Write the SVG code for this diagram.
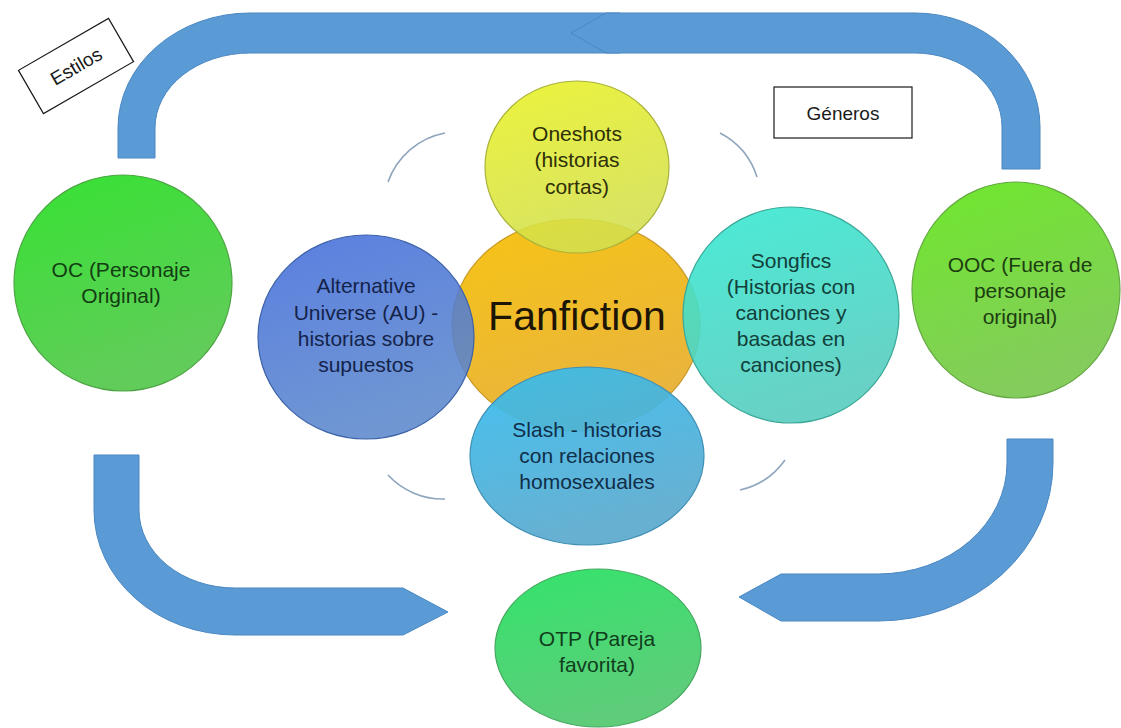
<svg xmlns="http://www.w3.org/2000/svg" width="1121" height="728" viewBox="0 0 1121 728">
<defs>
<style>
.arrow{fill:#5b9bd5;stroke:#4a87c2;stroke-width:1}
.node{stroke-width:1.2}
.lbl{font-family:"Liberation Sans",Arial,sans-serif;font-size:21px;text-anchor:middle}
.cyc{fill:none;stroke:#8ea5bd;stroke-width:1.6}
.box{fill:#ffffff;stroke:#1a1a1a;stroke-width:1.2}
.boxt{font-family:"Liberation Sans",Arial,sans-serif;font-size:19px;text-anchor:middle;fill:#1a1a1a}
</style>
<linearGradient id="gOC" x1="0" y1="0" x2="0.35" y2="1"><stop offset="0" stop-color="#36e233"/><stop offset="1" stop-color="#62cc5a"/></linearGradient>
<linearGradient id="gOOC" x1="0" y1="0" x2="0.35" y2="1"><stop offset="0" stop-color="#6fe82c"/><stop offset="1" stop-color="#84cc5c"/></linearGradient>
<linearGradient id="gAU" x1="0" y1="0" x2="0.35" y2="1"><stop offset="0" stop-color="#436ddc"/><stop offset="1" stop-color="#5c88cc"/></linearGradient>
<linearGradient id="gFan" x1="0" y1="0" x2="0.35" y2="1"><stop offset="0" stop-color="#f7c414"/><stop offset="1" stop-color="#e9b43e"/></linearGradient>
<linearGradient id="gOne" x1="0" y1="0" x2="0.35" y2="1"><stop offset="0" stop-color="#e9f220"/><stop offset="1" stop-color="#d3df4e"/></linearGradient>
<linearGradient id="gSong" x1="0" y1="0" x2="0.35" y2="1"><stop offset="0" stop-color="#36ead2"/><stop offset="1" stop-color="#58ccbf"/></linearGradient>
<linearGradient id="gSlash" x1="0" y1="0" x2="0.35" y2="1"><stop offset="0" stop-color="#33bdf0"/><stop offset="1" stop-color="#5ba9cd"/></linearGradient>
<linearGradient id="gOTP" x1="0" y1="0" x2="0.35" y2="1"><stop offset="0" stop-color="#33e46c"/><stop offset="1" stop-color="#5fcc7a"/></linearGradient>
</defs>
<rect x="0" y="0" width="1121" height="728" fill="#ffffff"/>

<g id="connectors">
<path class="arrow" d="M 620,13 L 250,13 A 132 115 0 0 0 118,128 L 118,158 L 155,158 L 155,128 A 95 75 0 0 1 250,53 L 620,53 Z"/>
<path class="arrow" d="M 571,33 L 606,13 L 915,13 A 125 114 0 0 1 1040,127 L 1040,169 L 1002,169 L 1002,127 A 87 74 0 0 0 915,53 L 606,53 Z"/>
<path class="arrow" d="M 94,455 L 139,455 L 139,510 A 96 78 0 0 0 235,588 L 403,588 L 448,612 L 403,635 L 235,635 A 141 125 0 0 1 94,510 Z"/>
<path class="arrow" d="M 1007,439 L 1053,439 L 1053,463 A 175 158 0 0 1 878,621 L 781,621 L 739,597 L 781,574 L 878,574 A 129 111 0 0 0 1007,463 Z"/>
<path class="cyc" d="M 445,133 A 75 75 0 0 0 388,182"/>
<path class="cyc" d="M 720,133 A 75 75 0 0 1 757,177"/>
<path class="cyc" d="M 388,475 A 75 75 0 0 0 445,499"/>
<path class="cyc" d="M 785,460 A 75 75 0 0 1 740,490"/>
</g>

<g id="estilos">
<g transform="translate(76,66) rotate(-30)">
<rect class="box" x="-52" y="-25" width="104" height="50"/>
<text class="boxt" x="0" y="7">Estilos</text>
</g>
</g>
<g id="generos">
<rect class="box" x="774" y="87" width="138" height="51"/>
<text class="boxt" x="843" y="120">Géneros</text>
</g>

<g id="oc">
<ellipse class="node" cx="123" cy="283" rx="109" ry="108" fill="url(#gOC)" stroke="#4da544"/>
<text class="lbl" fill="#123d12"><tspan x="121" y="277">OC (Personaje</tspan><tspan x="121" y="303">Original)</tspan></text>
</g>
<g id="ooc">
<ellipse class="node" cx="1016" cy="290" rx="104" ry="108" fill="url(#gOOC)" stroke="#66a845"/>
<text class="lbl" fill="#1d3d10"><tspan x="1020" y="272">OOC (Fuera de</tspan><tspan x="1020" y="298">personaje</tspan><tspan x="1020" y="324">original)</tspan></text>
</g>

<g id="fanfiction">
<ellipse class="node" cx="576" cy="325" rx="124" ry="106" fill="url(#gFan)" stroke="#c99a2c"/>
<text x="577" y="330" font-family="Liberation Sans, Arial, sans-serif" font-size="41" text-anchor="middle" fill="#1c1505">Fanfiction</text>
</g>
<g id="oneshots">
<ellipse class="node" cx="577" cy="167" rx="92" ry="86" fill="url(#gOne)" fill-opacity="0.88" stroke="#a9b23a"/>
<text class="lbl" fill="#2e3008"><tspan x="577" y="141">Oneshots</tspan><tspan x="577" y="167">(historias</tspan><tspan x="577" y="194">cortas)</tspan></text>
</g>
<g id="au">
<ellipse class="node" cx="366" cy="337" rx="108" ry="102" fill="url(#gAU)" fill-opacity="0.88" stroke="#3d62a8"/>
<text class="lbl" fill="#14234a"><tspan x="366" y="293">Alternative</tspan><tspan x="366" y="320">Universe (AU) -</tspan><tspan x="366" y="346">historias sobre</tspan><tspan x="366" y="372">supuestos</tspan></text>
</g>
<g id="songfics">
<ellipse class="node" cx="791" cy="315" rx="108" ry="108" fill="url(#gSong)" fill-opacity="0.9" stroke="#3aa898"/>
<text class="lbl" fill="#12403a"><tspan x="791" y="268">Songfics</tspan><tspan x="791" y="294">(Historias con</tspan><tspan x="791" y="320">canciones y</tspan><tspan x="791" y="346">basadas en</tspan><tspan x="791" y="372">canciones)</tspan></text>
</g>
<g id="slash">
<ellipse class="node" cx="587" cy="456" rx="117" ry="89" fill="url(#gSlash)" fill-opacity="0.92" stroke="#3f8fb5"/>
<text class="lbl" fill="#102e48"><tspan x="587" y="437">Slash - historias</tspan><tspan x="587" y="463">con relaciones</tspan><tspan x="587" y="489">homosexuales</tspan></text>
</g>
<g id="otp">
<ellipse class="node" cx="598" cy="648" rx="103" ry="79" fill="url(#gOTP)" stroke="#45a860"/>
<text class="lbl" fill="#103d1c"><tspan x="597" y="646">OTP (Pareja</tspan><tspan x="597" y="672">favorita)</tspan></text>
</g>
</svg>
